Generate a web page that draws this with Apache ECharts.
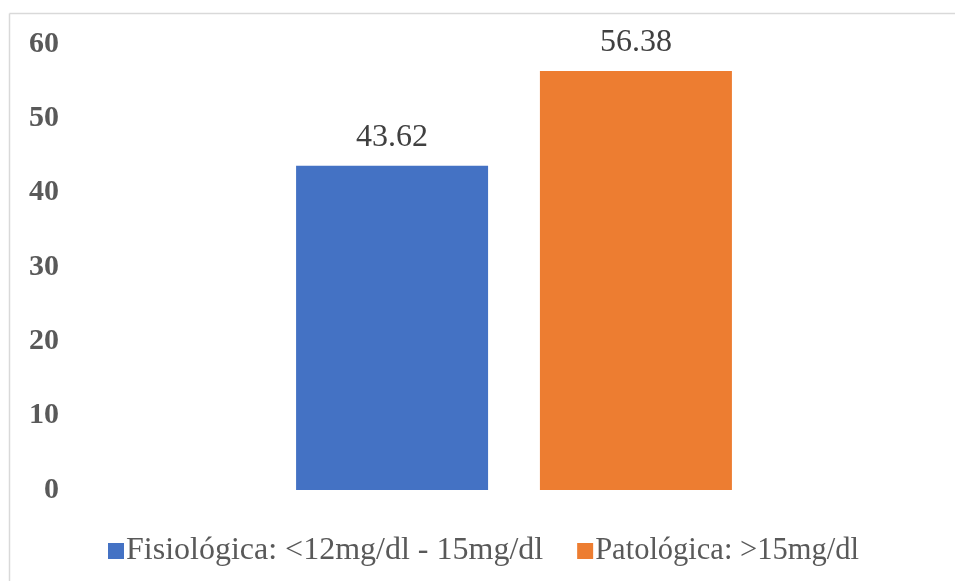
<!DOCTYPE html>
<html>
<head>
<meta charset="utf-8">
<script src="https://cdn.jsdelivr.net/npm/echarts@6/dist/echarts.min.js"></script>
<style>
  html, body { margin: 0; padding: 0; background: #fff; }
  #chart { width: 955px; height: 581px; }
</style>
</head>
<body>
<div id="chart"></div>
<script>
// Chart data
const categories = [''];
const seriesNames = ['Fisiológica: <12mg/dl - 15mg/dl', 'Patológica: >15mg/dl'];
const seriesValues = [[43.62], [56.38]];
const seriesColors = ['#4472C4', '#ED7D31'];
const yTicks = [0, 10, 20, 30, 40, 50, 60];

const serif = '"Liberation Serif", "Times New Roman", serif';
const legendFontSizes = [32, 30.5];

const chart = echarts.init(document.getElementById('chart'), null, { renderer: 'canvas' });

chart.setOption({
  animation: false,
  backgroundColor: '#ffffff',
  graphic: [
    // thin frame around the chart area
    { type: 'line', shape: { x1: 9.5, y1: 13.5, x2: 955, y2: 13.5 }, style: { stroke: '#d9d9d9', lineWidth: 1.5 } },
    { type: 'line', shape: { x1: 9.5, y1: 13.5, x2: 9.5, y2: 581 }, style: { stroke: '#d9d9d9', lineWidth: 1.5 } }
  ],
  grid: { left: 90, right: 17, top: 44, bottom: 91, containLabel: false },
  legend: {
    left: 103,
    top: 530,
    itemWidth: 16,
    itemHeight: 16,
    itemGap: 34,
    icon: 'rect',
    textStyle: { fontFamily: serif, fontSize: 32, color: '#595959', padding: [0, 0, 0, -3] },
    data: seriesNames.map((name, i) => ({
      name: name,
      textStyle: { fontSize: legendFontSizes[i] }
    }))
  },
  xAxis: {
    type: 'category',
    data: categories,
    axisLine: { show: false },
    axisTick: { show: false },
    axisLabel: { show: false }
  },
  yAxis: {
    type: 'value',
    min: yTicks[0],
    max: yTicks[yTicks.length - 1],
    interval: 10,
    axisLine: { show: false },
    axisTick: { show: false },
    splitLine: { show: false },
    axisLabel: {
      fontFamily: serif,
      fontSize: 30,
      fontWeight: 'bold',
      color: '#595959',
      margin: 31
    }
  },
  series: seriesNames.map((name, i) => ({
    name: name,
    type: 'bar',
    data: seriesValues[i],
    barWidth: 192,
    barGap: '27%',
    itemStyle: { color: seriesColors[i] },
    label: {
      show: true,
      position: 'top',
      distance: 12,
      fontFamily: serif,
      fontSize: 32,
      color: '#404040',
      formatter: p => p.value.toFixed(2)
    }
  }))
});
</script>
</body>
</html>
